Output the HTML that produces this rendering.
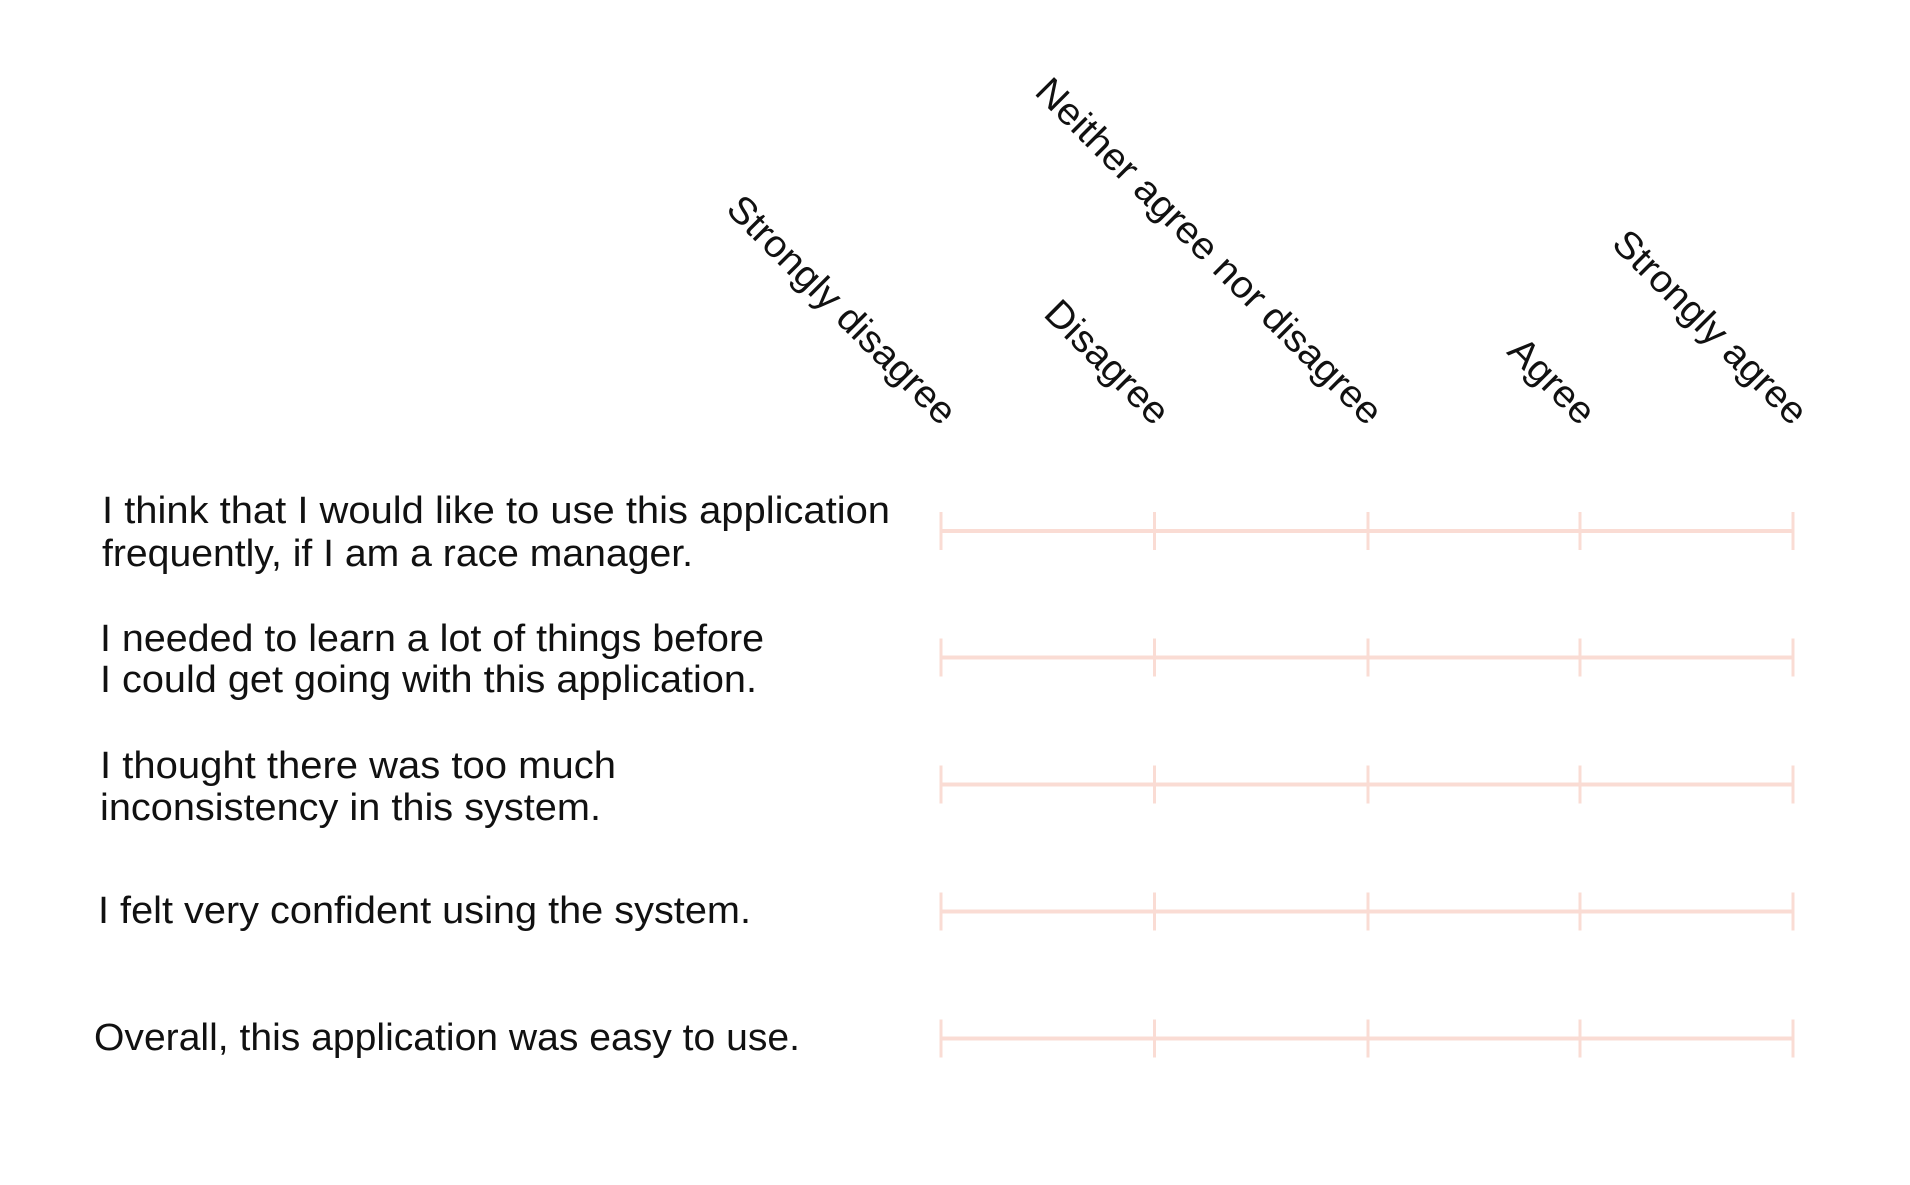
<!DOCTYPE html>
<html><head><meta charset="utf-8"><style>
html,body{margin:0;padding:0;background:#fff;}
svg{display:block;}
text{font-family:"Liberation Sans",sans-serif;fill:#111;}
</style></head><body>
<svg width="1910" height="1185" viewBox="0 0 1910 1185" xmlns="http://www.w3.org/2000/svg">
<g font-size="38" text-anchor="end">
<text transform="translate(941,427) rotate(45)" textLength="306" lengthAdjust="spacingAndGlyphs">Strongly disagree</text>
<text transform="translate(1154,427) rotate(45)" textLength="158" lengthAdjust="spacingAndGlyphs">Disagree</text>
<text transform="translate(1367,427) rotate(45)" textLength="472" lengthAdjust="spacingAndGlyphs">Neither agree nor disagree</text>
<text transform="translate(1580,427) rotate(45)" textLength="105" lengthAdjust="spacingAndGlyphs">Agree</text>
<text transform="translate(1792,427) rotate(45)" textLength="257" lengthAdjust="spacingAndGlyphs">Strongly agree</text>
</g>
<g font-size="38">
<text x="102" y="523" textLength="788" lengthAdjust="spacingAndGlyphs">I think that I would like to use this application</text>
<text x="102" y="566" textLength="591" lengthAdjust="spacingAndGlyphs">frequently, if I am a race manager.</text>
<text x="100" y="651" textLength="664" lengthAdjust="spacingAndGlyphs">I needed to learn a lot of things before</text>
<text x="100" y="692" textLength="657" lengthAdjust="spacingAndGlyphs">I could get going with this application.</text>
<text x="100" y="778" textLength="516" lengthAdjust="spacingAndGlyphs">I thought there was too much</text>
<text x="100" y="820" textLength="501" lengthAdjust="spacingAndGlyphs">inconsistency in this system.</text>
<text x="98" y="923" textLength="653" lengthAdjust="spacingAndGlyphs">I felt very confident using the system.</text>
<text x="94" y="1050" textLength="706" lengthAdjust="spacingAndGlyphs">Overall, this application was easy to use.</text>
</g>
<g stroke="#fadcd4" fill="none">
<g transform="translate(0,531)"><line x1="941" x2="1793" y1="0" y2="0" stroke-width="4"/><g stroke-width="3"><line x1="941" x2="941" y1="-19" y2="19"/><line x1="1154.5" x2="1154.5" y1="-19" y2="19"/><line x1="1368" x2="1368" y1="-19" y2="19"/><line x1="1580" x2="1580" y1="-19" y2="19"/><line x1="1793" x2="1793" y1="-19" y2="19"/></g></g>
<g transform="translate(0,657.5)"><line x1="941" x2="1793" y1="0" y2="0" stroke-width="4"/><g stroke-width="3"><line x1="941" x2="941" y1="-19" y2="19"/><line x1="1154.5" x2="1154.5" y1="-19" y2="19"/><line x1="1368" x2="1368" y1="-19" y2="19"/><line x1="1580" x2="1580" y1="-19" y2="19"/><line x1="1793" x2="1793" y1="-19" y2="19"/></g></g>
<g transform="translate(0,784.5)"><line x1="941" x2="1793" y1="0" y2="0" stroke-width="4"/><g stroke-width="3"><line x1="941" x2="941" y1="-19" y2="19"/><line x1="1154.5" x2="1154.5" y1="-19" y2="19"/><line x1="1368" x2="1368" y1="-19" y2="19"/><line x1="1580" x2="1580" y1="-19" y2="19"/><line x1="1793" x2="1793" y1="-19" y2="19"/></g></g>
<g transform="translate(0,911.5)"><line x1="941" x2="1793" y1="0" y2="0" stroke-width="4"/><g stroke-width="3"><line x1="941" x2="941" y1="-19" y2="19"/><line x1="1154.5" x2="1154.5" y1="-19" y2="19"/><line x1="1368" x2="1368" y1="-19" y2="19"/><line x1="1580" x2="1580" y1="-19" y2="19"/><line x1="1793" x2="1793" y1="-19" y2="19"/></g></g>
<g transform="translate(0,1038.5)"><line x1="941" x2="1793" y1="0" y2="0" stroke-width="4"/><g stroke-width="3"><line x1="941" x2="941" y1="-19" y2="19"/><line x1="1154.5" x2="1154.5" y1="-19" y2="19"/><line x1="1368" x2="1368" y1="-19" y2="19"/><line x1="1580" x2="1580" y1="-19" y2="19"/><line x1="1793" x2="1793" y1="-19" y2="19"/></g></g>
</g>
</svg>
</body></html>
